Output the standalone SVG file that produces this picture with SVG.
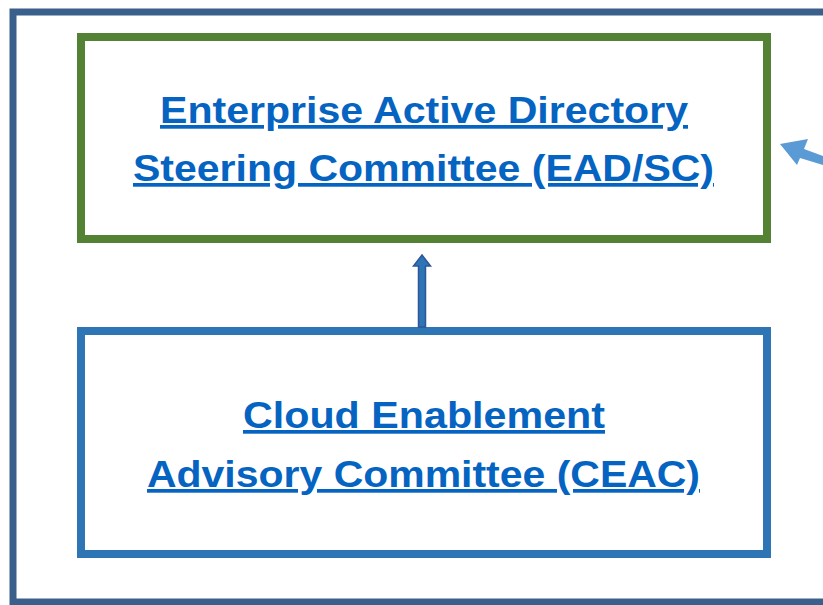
<svg xmlns="http://www.w3.org/2000/svg" width="823" height="605" viewBox="0 0 823 605">
<style>
.t{font-family:"Liberation Sans",Arial,sans-serif;font-weight:bold;font-size:37px;fill:#0563c1;text-decoration:underline;text-anchor:middle}
</style>
<rect width="823" height="605" fill="#fff"/>
<g id="outer"><rect x="13" y="12" width="830" height="590" fill="none" stroke="#3a5f8a" stroke-width="7"/></g>
<g id="eadsc">
<rect x="81" y="37" width="686" height="202" fill="#fff" stroke="#548235" stroke-width="8"/>
<text class="t" x="424" y="123" textLength="528" lengthAdjust="spacingAndGlyphs">Enterprise Active Directory</text>
<text class="t" x="423.5" y="181" textLength="581" lengthAdjust="spacingAndGlyphs">Steering Committee (EAD/SC)</text>
</g>
<g id="ceac">
<rect x="81" y="331" width="686" height="223" fill="#fff" stroke="#2e75b6" stroke-width="8"/>
<text class="t" x="424" y="428" textLength="362" lengthAdjust="spacingAndGlyphs">Cloud Enablement</text>
<text class="t" x="423.5" y="487" textLength="553" lengthAdjust="spacingAndGlyphs">Advisory Committee (CEAC)</text>
</g>
<g id="connectors">
<path d="M418.5,327 V266 H413.5 L422,255 L430.5,266 H425.5 V327 Z" fill="#2e75b6" stroke="#2f5597" stroke-width="1.5"/>
<path d="M780,144 L808,139 L804,149 L823,156 L823,165 L800,158 L797,165 Z" fill="#5b9bd5"/>
</g>
</svg>
